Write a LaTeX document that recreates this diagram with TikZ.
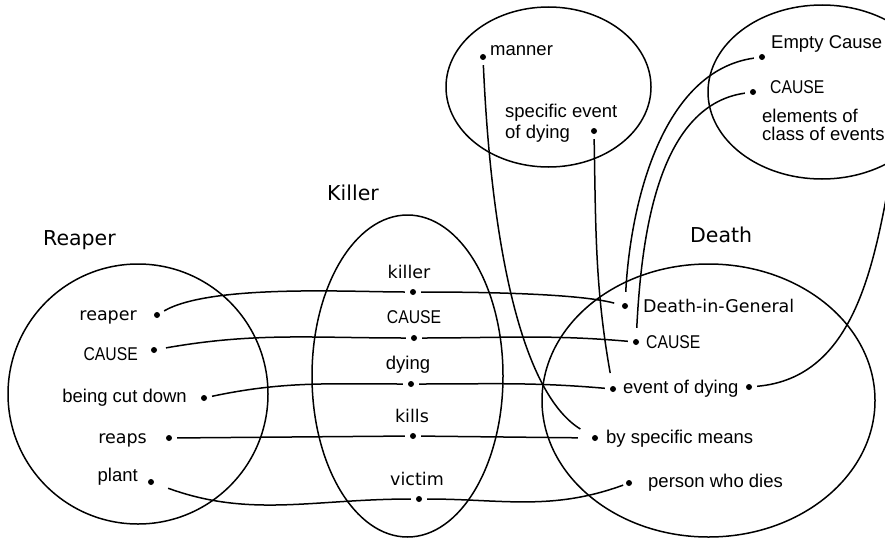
\documentclass[tikz,border=0pt]{standalone}
\usepackage{fontspec}
\usepackage{graphicx}
\setmainfont{Liberation Sans}
\newfontfamily\genevafont{DejaVu Sans}
\newcommand{\narrowcaps}[1]{\scalebox{0.85}[1]{#1}}

\begin{document}
\begin{tikzpicture}[x=1pt,y=1pt,member/.style={circle,fill,inner sep=0pt,minimum size=6pt},lbl/.style={inner sep=0pt,font=\fontsize{18.5}{21}\selectfont},glbl/.style={inner sep=0pt,font=\genevafont\fontsize{17.5}{21}\selectfont},title/.style={inner sep=0pt,font=\genevafont\fontsize{20.5}{24}\selectfont},set/.style={line width=1.5pt},link/.style={line width=1.5pt,shorten <=5pt,shorten >=5pt}]
\useasboundingbox (0,0) rectangle (885,-538);
\clip (0,0) rectangle (885,-538);
\draw[set] (138,-394) circle[radius=130]; \draw[set] (407.5,-376) ellipse[x radius=95.5,y radius=161];
\draw[set] (708.5,-400.5) ellipse[x radius=166.5,y radius=136.5];
\draw[set] (548.5,-87) ellipse[x radius=102.5,y radius=80]; \draw[set] (822,-92) ellipse[x radius=114,y radius=87];
\node[title,anchor=base west] (reapertitle) at (43,-245) {Reaper}; \node[title,anchor=base west] (killertitle) at (327,-200) {Killer}; \node[title,anchor=base west] (deathtitle) at (690,-242) {Death};
\node[member] (reaper) at (157,-315) {}; \node[member] (rcause) at (154,-350) {}; \node[member] (cutdown) at (204,-398) {}; \node[member] (reaps) at (169,-438) {}; \node[member] (plant) at (151,-482) {};
\node[glbl,anchor=base east] (reapertxt) at (137,-320) {reaper}; \node[lbl,anchor=base east] (rcausetxt) at (138,-360) {\narrowcaps{CAUSE}};
\node[lbl,anchor=base east] (cutdowntxt) at (187,-402) {being cut down}; \node[glbl,anchor=base east] (reapstxt) at (147,-443) {reaps}; \node[lbl,anchor=base east] (planttxt) at (138,-481) {plant};
\node[member] (killer) at (413,-292) {}; \node[member] (kcause) at (414,-338) {}; \node[member] (dying) at (411,-384) {}; \node[member] (kills) at (413,-436) {}; \node[member] (victim) at (419,-499) {};
\node[glbl,anchor=base] (killertxt) at (409,-278) {killer}; \node[lbl,anchor=base] (kcausetxt) at (414,-323) {\narrowcaps{CAUSE}}; \node[lbl,anchor=base] (dyingtxt) at (408,-369) {dying};
\node[glbl,anchor=base] (killstxt) at (412,-422) {kills}; \node[glbl,anchor=base] (victimtxt) at (417,-485) {victim};
\node[member] (general) at (625,-306) {}; \node[member] (dcause) at (636,-342) {}; \node[member] (event) at (613,-389) {}; \node[member] (eventr) at (749,-387) {}; \node[member] (means) at (595,-438) {}; \node[member] (person) at (629,-483) {};
\node[glbl,anchor=base west] (generaltxt) at (643,-312) {Death-in-General}; \node[lbl,anchor=base west] (dcausetxt) at (646,-348) {\narrowcaps{CAUSE}};
\node[lbl,anchor=base west] (eventtxt) at (623,-393) {event of dying}; \node[lbl,anchor=base west] (meanstxt) at (606,-443) {by specific means}; \node[lbl,anchor=base west] (persontxt) at (648,-487) {person who dies};
\node[member] (manner) at (483,-57) {}; \node[member] (specific) at (594,-131) {};
\node[lbl,anchor=base west] (mannertxt) at (490,-55) {manner}; \node[lbl,anchor=base west,align=left] (specifictxt) at (505,-138) {specific event\\of dying};
\node[member] (empty) at (762,-57) {}; \node[member] (ccause) at (753,-92) {}; \coordinate (cedge) at (893,-160);
\node[lbl,anchor=base west] (emptytxt) at (771,-48) {Empty Cause}; \node[lbl,anchor=base west] (ccausetxt) at (770,-93) {\narrowcaps{CAUSE}};
\node[lbl,anchor=base west,align=left,font=\fontsize{18.5}{17.5}\selectfont] (elementstxt) at (762,-140) {elements of\\class of events};
\draw[link] (reaper) to[out=30,in=180,looseness=0.6] (killer); \draw[link,shorten >=8pt] (killer) to[out=0,in=165,looseness=0.6] (general);
\draw[link,shorten <=9pt] (rcause) to[out=10,in=180] (kcause); \draw[link] (kcause) to[out=0,in=175] (dcause);
\draw[link] (cutdown) to[out=12,in=180] (dying); \draw[link] (dying) to[out=0,in=175] (event);
\draw[link] (reaps) -- (kills); \draw[link,shorten >=14pt] (kills) -- (means);
\draw[link,shorten <=15pt] (plant) to[out=-20,in=180] (victim); \draw[link,shorten >=3pt] (victim) to[out=0,in=-160] (person);
\draw[link,shorten >=14pt] (manner) .. controls (492,-260) and (525,-395) .. (means);
\draw[link,shorten >=13pt] (specific) to[out=-89,in=100] (event);
\draw[link,shorten >=11pt] (empty) to[out=188,in=87,looseness=0.9] (general); \draw[link,shorten >=11pt] (ccause) to[out=188,in=87,looseness=0.9] (dcause);
\draw[link,shorten >=0pt] (eventr) to[out=5,in=-100] (cedge);
\end{tikzpicture}
\end{document}
